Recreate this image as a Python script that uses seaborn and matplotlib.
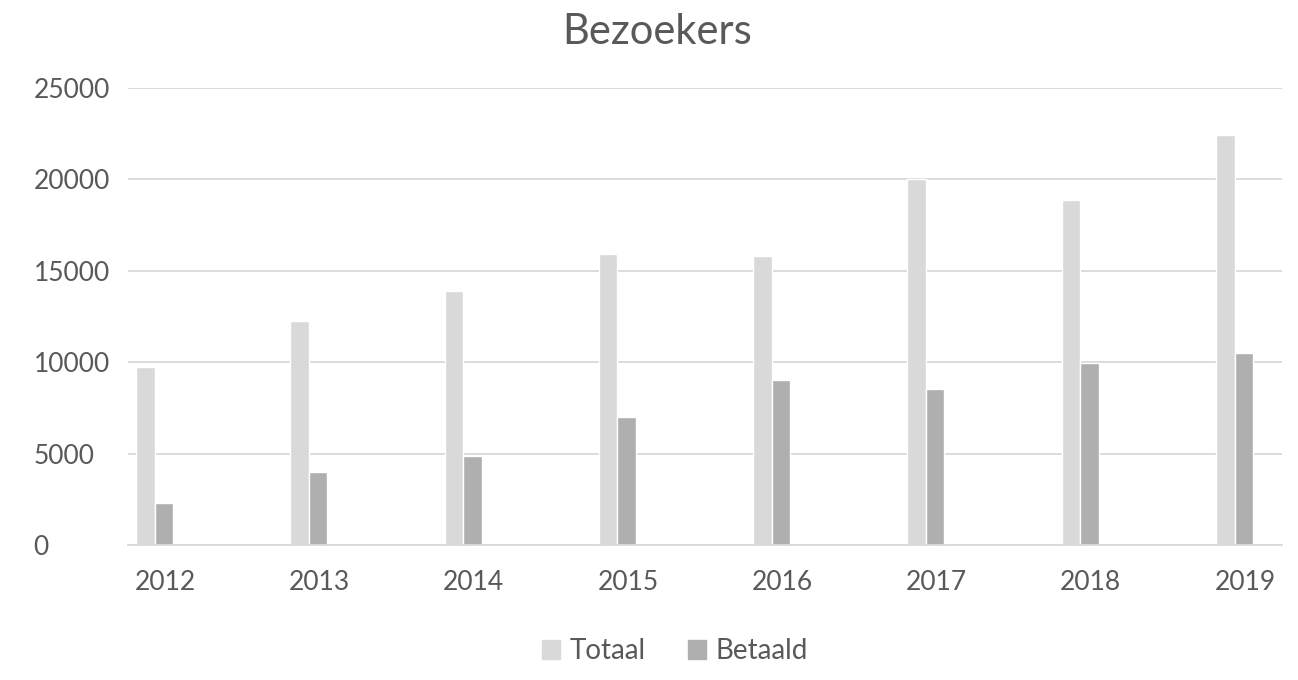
"""
Bezoekers per jaar: totaal en betaald (staafdiagram in Excel-stijl).
"""

import pandas as pd
import matplotlib.pyplot as plt
import matplotlib.patches as mpatches
import seaborn as sns

# Data
jaren = ["2012", "2013", "2014", "2015", "2016", "2017", "2018", "2019"]
totaal = [9750, 12250, 13900, 15900, 15800, 20000, 18850, 22450]
betaald = [2300, 4000, 4850, 7000, 9000, 8550, 9950, 10500]
y_ticks = [0, 5000, 10000, 15000, 20000, 25000]

KLEUREN = {
    "Totaal": "#D9D9D9",
    "Betaald": "#AFAFAF",
    "grid": "#D9D9D9",
    "tekst": "#595959",
}

sns.set_theme(style="white")
plt.rcParams["font.family"] = ["Lato", "DejaVu Sans"]

df = pd.DataFrame({
    "jaar": jaren * 2,
    "bezoekers": totaal + betaald,
    "soort": ["Totaal"] * len(jaren) + ["Betaald"] * len(jaren),
})

fig = plt.figure(figsize=(12.98, 6.80), dpi=100)
ax = fig.add_axes([0.0986, 0.1985, 0.8891, 0.6721])

sns.barplot(
    data=df, x="jaar", y="bezoekers", hue="soort",
    hue_order=["Totaal", "Betaald"],
    palette=[KLEUREN["Totaal"], KLEUREN["Betaald"]],
    width=0.24, saturation=1, legend=False, ax=ax,
)

# Excel laat ruimte voor een lege derde reeks: labels staan iets rechts van het paar
ax.set_xticks([i + 0.068 for i in range(len(jaren))])
ax.set_xticklabels(jaren)
ax.set_xlim(-0.172, 7.308)
ax.set_ylim(0, 25000)
ax.set_yticks(y_ticks)
ax.set_yticklabels([str(t) for t in y_ticks])

ax.grid(True, axis="y", color=KLEUREN["grid"], linewidth=1.3)
ax.set_axisbelow(True)
for kant in ["top", "left", "right"]:
    ax.spines[kant].set_visible(False)
ax.spines["bottom"].set_color(KLEUREN["grid"])
ax.spines["bottom"].set_linewidth(1.3)

ax.tick_params(axis="x", length=0, pad=18, labelsize=19, labelcolor=KLEUREN["tekst"])
ax.tick_params(axis="y", length=0, pad=68, labelsize=19, labelcolor=KLEUREN["tekst"])
for lbl in ax.get_yticklabels():
    lbl.set_horizontalalignment("left")

ax.set_xlabel("")
ax.set_ylabel("")

fig.text(0.506, 0.953, "Bezoekers", ha="center", va="center",
         fontsize=30, color=KLEUREN["tekst"])

patches = [
    mpatches.Patch(color=KLEUREN["Totaal"], label="Totaal"),
    mpatches.Patch(color=KLEUREN["Betaald"], label="Betaald"),
]
fig.legend(handles=patches, loc="center", bbox_to_anchor=(0.52, 0.042),
           ncol=2, frameon=False, fontsize=20, labelcolor=KLEUREN["tekst"],
           handlelength=0.65, handleheight=0.65, handletextpad=0.36, columnspacing=1.5)

fig.savefig("out.png", dpi=100)
